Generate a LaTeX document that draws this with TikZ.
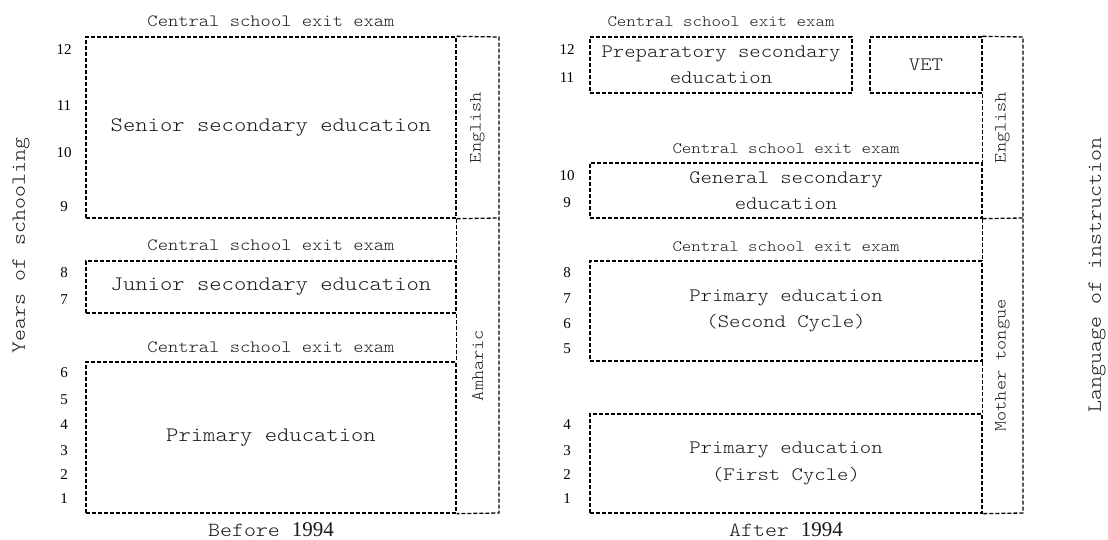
\documentclass[tikz,border=0pt]{standalone}
\usepackage{fontspec}
\setmainfont{Liberation Serif}
\newfontfamily\typefont[FakeStretch=1.14]{Latin Modern Mono Light}
\usetikzlibrary{positioning}
\definecolor{inkgray}{RGB}{25,25,25}

\begin{document}
\begin{tikzpicture}[x=1pt,y=-1pt,
  dashline/.style={draw=black,dash pattern=on 4pt off 2pt,line width=1.3pt},
  stage/.style={dashline,inner sep=0pt,align=center,text=inkgray},
  oldtxt/.style={font=\typefont\fontsize{20.6}{26}\selectfont},
  newtxt/.style={font=\typefont\fontsize{19}{26.5}\selectfont},
  lang/.style={rotate=90,inner sep=0pt,text=inkgray,font=\typefont\fontsize{17}{20}\selectfont},
  exam/.style={inner sep=0pt,text depth=0pt,text=inkgray},
  yr/.style={inner sep=0pt,font=\fontsize{15}{18}\selectfont},
  axis/.style={rotate=90,inner sep=0pt,text=inkgray,font=\typefont\fontsize{20}{26}\selectfont},
  era/.style={anchor=base,inner sep=0pt,text=inkgray,font=\typefont\fontsize{20}{24}\selectfont}
]
\useasboundingbox (0,0) rectangle (1108,540);

% before 1994
\node[stage,oldtxt,minimum width=370pt,minimum height=181pt] (senior) at (271,127.5) {Senior secondary education};
\node[stage,oldtxt,minimum width=370pt,minimum height=52pt] (junior) at (271,287) {Junior secondary education};
\node[stage,oldtxt,minimum width=370pt,minimum height=151pt] (oldprim) at (271,437.5) {Primary education};
\node[exam,above=9.5pt of senior,font=\typefont\fontsize{17.2}{20}\selectfont] (examsenior) {Central school exit exam};
\node[exam,above=9.5pt of junior,font=\typefont\fontsize{17.2}{20}\selectfont] (examjunior) {Central school exit exam};
\node[exam,above=9pt of oldprim,font=\typefont\fontsize{17.2}{20}\selectfont] (examoldprim) {Central school exit exam};
% language column, left side shared with the boxes
\node[lang] (engold) at (477.5,127.5) {English};
\node[lang] (amharic) at (477.5,365.5) {Amharic};
\coordinate (oldcolne) at (499,37);
\coordinate (oldcolmid) at (499,218);
\coordinate (oldcolse) at (499,513);
\draw[dashline] (senior.north east) -- (oldcolne) -- (oldcolse) -- (oldprim.south east);
\draw[dashline] (senior.south east) -- (oldcolmid);
\draw[dashline] (senior.south east) -- (junior.north east);
\draw[dashline] (junior.south east) -- (oldprim.north east);
\foreach \n/\y in {12/50,11/106,10/153,9/207,8/273,7/300,6/373,5/400,4/425,3/451,2/475,1/499}
  \node[yr] (old\n) at (64,\y) {\n};
\node[era] (before) at ([yshift=-23pt]oldprim.south) {Before {\fontsize{21}{24}\rmfamily 1994}};

% after 1994
\node[stage,newtxt,minimum width=262pt,minimum height=56pt] (prep) at (721,65) {Preparatory secondary\\education};
\node[stage,newtxt,minimum width=112pt,minimum height=56pt] (vet) at (926,65) {VET};
\node[stage,newtxt,minimum width=392pt,minimum height=55pt] (gensec) at (786,190.5) {General secondary\\education};
\node[stage,newtxt,minimum width=392pt,minimum height=100pt] (second) at (786,311) {Primary education\\(Second Cycle)};
\node[stage,newtxt,minimum width=392pt,minimum height=99pt] (first) at (786,463.5) {Primary education\\(First Cycle)};
\node[exam,above=10pt of prep,font=\typefont\fontsize{15.8}{20}\selectfont] (examprep) {Central school exit exam};
\node[exam,above=9pt of gensec,font=\typefont\fontsize{15.8}{20}\selectfont] (examgensec) {Central school exit exam};
\node[exam,above=9pt of second,font=\typefont\fontsize{15.8}{20}\selectfont] (examsecond) {Central school exit exam};
\node[lang] (engnew) at (1002.5,127.5) {English};
\node[lang] (mother) at (1002.5,365.5) {Mother tongue};
\coordinate (newcolne) at (1023,37);
\coordinate (newcolmid) at (1023,218);
\coordinate (newcolse) at (1023,513);
\draw[dashline] (vet.north east) -- (newcolne) -- (newcolse) -- (first.south east);
\draw[dashline] (gensec.south east) -- (newcolmid);
\draw[dashline] (vet.south east) -- (gensec.north east);
\draw[dashline] (gensec.south east) -- (second.north east);
\draw[dashline] (second.south east) -- (first.north east);
\foreach \n/\y in {12/50,11/78,10/176,9/203,8/273,7/299,6/324,5/349,4/425,3/451,2/475,1/499}
  \node[yr] (new\n) at (567,\y) {\n};
\node[era] (after) at ([yshift=-23pt]first.south) {After {\fontsize{21}{24}\rmfamily 1994}};

% axis titles
\node[axis] (years) at (21,245.5) {Years of schooling};
\node[axis] (language) at (1097,275) {Language of instruction};
\end{tikzpicture}
\end{document}
